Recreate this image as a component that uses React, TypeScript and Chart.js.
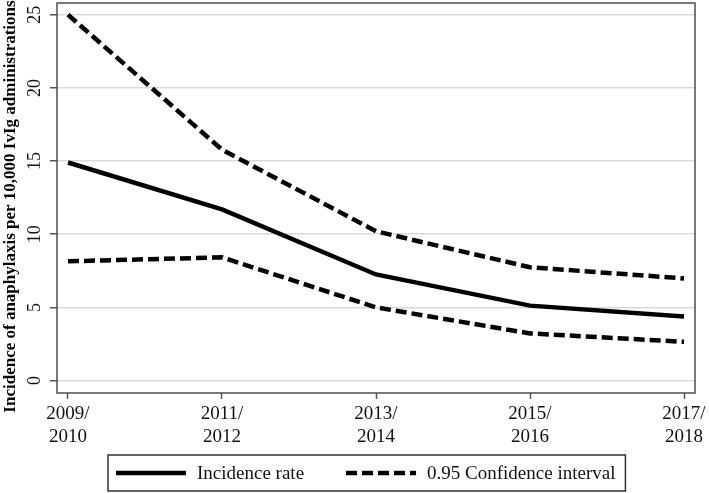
import React, { useEffect, useRef } from "react";
import { Chart, registerables } from "chart.js";

Chart.register(...registerables);

// ---- data ----
const periods: string[][] = [
  ["2009/", "2010"],
  ["2011/", "2012"],
  ["2013/", "2014"],
  ["2015/", "2016"],
  ["2017/", "2018"],
];
const incidenceRate = [14.9, 11.7, 7.25, 5.12, 4.38];
const ciUpper = [25.0, 15.78, 10.2, 7.74, 6.98];
const ciLower = [8.15, 8.42, 5.0, 3.22, 2.65];
const yTicks = [0, 5, 10, 15, 20, 25];
const legendLabels = ["Incidence rate", "0.95 Confidence interval"];
const yTitle = "Incidence of anaphylaxis per 10,000 IvIg administrations";

const FONT = '"Liberation Serif", "Times New Roman", serif';

const framePlugin = {
  id: "frameBox",
  afterDraw(chart: any) {
    const { ctx, chartArea } = chart;
    ctx.save();
    ctx.strokeStyle = "#4d4d4d";
    ctx.lineWidth = 1.5;
    ctx.strokeRect(
      chartArea.left,
      chartArea.top,
      chartArea.right - chartArea.left,
      chartArea.bottom - chartArea.top
    );
    ctx.restore();
  },
};

const boxLegendPlugin = {
  id: "boxLegend",
  afterDraw(chart: any) {
    const ctx = chart.ctx;
    const ds = chart.data.datasets.slice(0, 2);
    ctx.save();
    ctx.font = `19px ${FONT}`;
    ctx.textBaseline = "middle";
    ctx.textAlign = "left";
    const left = 108;
    const top = 455;
    const h = 36;
    const cy = top + h / 2;
    const sample = 70;
    const gap = 11;
    const itemGap = 42;
    let x = left + 8;
    ds.forEach((d: any, i: number) => {
      ctx.save();
      ctx.strokeStyle = d.borderColor;
      ctx.lineWidth = d.borderWidth;
      ctx.lineCap = "butt";
      ctx.setLineDash(d.borderDash || []);
      ctx.beginPath();
      ctx.moveTo(x, cy);
      ctx.lineTo(x + sample, cy);
      ctx.stroke();
      ctx.restore();
      x += sample + gap;
      ctx.fillStyle = "#111";
      ctx.fillText(legendLabels[i], x, cy + 1);
      x += ctx.measureText(legendLabels[i]).width + itemGap;
    });
    const right = x - itemGap + 10;
    ctx.strokeStyle = "#333";
    ctx.lineWidth = 1.5;
    ctx.strokeRect(left, top, right - left, h);
    ctx.restore();
  },
};

export default function App() {
  const ref = useRef<HTMLCanvasElement | null>(null);

  useEffect(() => {
    if (!ref.current) return;
    const toPts = (arr: number[]) => arr.map((v, i) => ({ x: i, y: v }));
    const chart = new Chart(ref.current, {
      type: "line",
      data: {
        datasets: [
          {
            label: legendLabels[0],
            data: toPts(incidenceRate),
            borderColor: "#000",
            borderWidth: 4.5,
            pointRadius: 0,
            tension: 0,
            fill: false,
          },
          {
            label: legendLabels[1],
            data: toPts(ciUpper),
            borderColor: "#000",
            borderWidth: 4.5,
            borderDash: [11, 5],
            pointRadius: 0,
            tension: 0,
            fill: false,
          },
          {
            label: legendLabels[1] + " (lower)",
            data: toPts(ciLower),
            borderColor: "#000",
            borderWidth: 4.5,
            borderDash: [11, 5],
            pointRadius: 0,
            tension: 0,
            fill: false,
          },
        ],
      },
      options: {
        responsive: false,
        animation: false,
        layout: { padding: { top: 3, right: 14, bottom: 43, left: 0 } },
        plugins: {
          legend: { display: false },
          tooltip: { enabled: false },
        },
        scales: {
          x: {
            type: "linear",
            min: -0.0714,
            max: 4.0714,
            afterBuildTicks: (s: any) => {
              s.ticks = periods.map((_, i) => ({ value: i }));
            },
            afterFit: (s: any) => {
              s.height = 57;
              s.paddingLeft = 0;
              s.paddingRight = 0;
            },
            ticks: {
              autoSkip: false,
              minRotation: 0,
              maxRotation: 0,
              padding: 4,
              color: "#111",
              font: { family: FONT, size: 19 },
              callback: (_v: any, i: number) => periods[i],
            },
            grid: {
              drawOnChartArea: false,
              tickLength: 6,
              tickColor: "#555",
              tickWidth: 1.5,
            },
            border: { display: false },
          },
          y: {
            type: "linear",
            min: -0.85,
            max: 25.8,
            afterBuildTicks: (s: any) => {
              s.ticks = yTicks.map((v) => ({ value: v }));
            },
            afterFit: (s: any) => {
              s.width = 57;
              s.paddingTop = 0;
              s.paddingBottom = 0;
            },
            ticks: {
              minRotation: 90,
              maxRotation: 90,
              crossAlign: "center",
              padding: 6,
              color: "#111",
              font: { family: FONT, size: 18 },
              callback: (v: any) => String(v),
            },
            grid: {
              color: "#d9d9d9",
              lineWidth: 1.5,
              tickLength: 7,
              tickColor: "#555",
              tickWidth: 1.5,
            },
            border: { display: false },
            title: {
              display: true,
              text: yTitle + "\u00a0\u00a0\u00a0\u00a0",
              color: "#000",
              font: { family: FONT, size: 17, weight: "bold" },
              padding: { top: 0, bottom: 0 },
            },
          },
        },
      },
      plugins: [framePlugin, boxLegendPlugin],
    } as any);
    return () => chart.destroy();
  }, []);

  return (
    <div style={{ position: "absolute", left: 0, top: 0, width: 709, height: 493, background: "#fff" }}>
      <canvas ref={ref} width={709} height={493} style={{ display: "block" }} />
    </div>
  );
}
